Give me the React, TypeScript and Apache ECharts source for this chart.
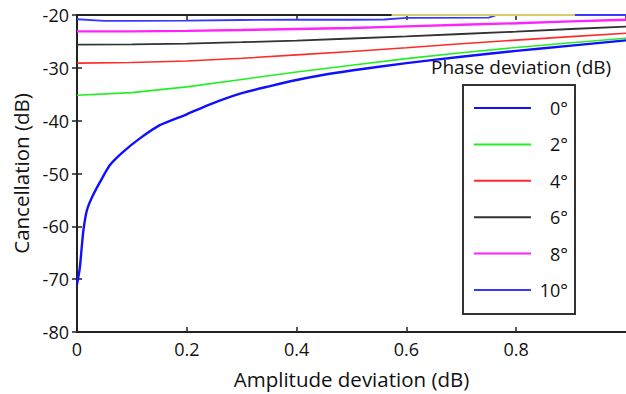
import React, { useEffect, useRef } from "react";
import * as echarts from "echarts";

// Amplitude deviation (dB) sample points
const amp0: number[] = [0, 0.005, 0.0085, 0.0115, 0.0175, 0.0265, 0.042, 0.06, 0.084, 0.114, 0.15, 0.2, 0.24, 0.3, 0.35, 0.4, 0.45, 0.5, 0.6, 0.7, 0.8, 0.9, 1.0];
const ampBase: number[] = [0, 0.1, 0.2, 0.3, 0.4, 0.5, 0.6, 0.7, 0.8, 0.9, 1.0];
const amp10: number[] = [0, 0.05, 0.1, 0.2, 0.3, 0.4, 0.5, 0.56, 0.6, 0.75, 0.765, 0.9, 1.0];
const ampTop: number[] = [0.573, 0.907];

// Cancellation (dB) for each phase deviation
const phase0: number[] = [-71, -68, -64.1, -60.9, -57.2, -54.7, -51.6, -48.4, -45.9, -43.4, -40.9, -38.8, -37, -34.8, -33.5, -32.3, -31.3, -30.5, -29.1, -27.9, -26.8, -25.8, -24.8];
const phase2: number[] = [-35.2, -34.7, -33.6, -32.2, -30.8, -29.5, -28.25, -27.15, -26.15, -25.25, -24.4];
const phase4: number[] = [-29.1, -29.0, -28.7, -28.2, -27.55, -26.9, -26.2, -25.45, -24.75, -24.1, -23.45];
const phase6: number[] = [-25.6, -25.55, -25.4, -25.15, -24.85, -24.45, -24.05, -23.6, -23.15, -22.65, -22.2];
const phase8: number[] = [-23.1, -23.1, -23.0, -22.85, -22.65, -22.45, -22.15, -21.85, -21.55, -21.2, -20.9];
const phase10: number[] = [-20.8, -21.1, -21.1, -21.05, -20.95, -20.9, -20.9, -20.85, -20.55, -20.5, -20.0, -20, -20];
const topLine: number[] = [-20, -20];

const legendNames: string[] = ["0°", "2°", "4°", "6°", "8°", "10°"];
const xTicks: number[] = [0, 0.2, 0.4, 0.6, 0.8, 1.0];
const yTicks: number[] = [-80, -70, -60, -50, -40, -30, -20];

const FONT = "Open Sans";
const FS = 18;
const FS_NAME = 20.5;

function zip(xs: number[], ys: number[]): number[][] {
  return xs.map((x, i) => [x, ys[i]]);
}

export default function App() {
  const ref = useRef<HTMLDivElement>(null);
  useEffect(() => {
    if (!ref.current) return;
    const chart = echarts.init(ref.current, undefined, { renderer: "svg" });
    const axisLine = { show: true, lineStyle: { color: "#222", width: 2 } };
    const tick = { show: true, inside: true, length: 5, lineStyle: { color: "#222", width: 1.5 } };
    const mk = (name: string, xs: number[], ys: number[], color: string, width: number, z = 3, smooth: number | boolean = false) => ({
      name,
      type: "line",
      data: zip(xs, ys),
      showSymbol: false,
      symbol: "none",
      clip: false,
      smooth,
      lineStyle: { color, width },
      itemStyle: { color },
      z,
    });
    chart.setOption({
      animation: false,
      backgroundColor: "#fff",
      textStyle: { fontFamily: FONT },
      title: {
        text: "Phase deviation (dB)",
        left: 431,
        top: 57,
        padding: 0,
        textStyle: { fontFamily: FONT, fontSize: 19, fontWeight: "normal", color: "#111" },
      },
      legend: {
        data: legendNames,
        orient: "vertical",
        left: 463,
        top: 85,
        padding: [14, 7, 15, 10],
        itemWidth: 57,
        itemHeight: 14,
        itemGap: 18.4,
        borderColor: "#333",
        borderWidth: 2,
        borderRadius: 0,
        backgroundColor: "#fff",
        itemStyle: { opacity: 0 },
        formatter: (n: string) => "{a|" + n + "}",
        textStyle: {
          fontFamily: FONT,
          fontSize: FS,
          color: "#111",
          rich: { a: { fontFamily: FONT, fontSize: FS, color: "#111", width: 32, align: "right" } },
        },
        selectedMode: false,
      },
      grid: { left: 77, right: -2.5, top: 15, bottom: 59, containLabel: false },
      xAxis: [
        {
          type: "value",
          min: xTicks[0],
          max: xTicks[xTicks.length - 1],
          interval: 0.2,
          name: "Amplitude deviation (dB)",
          nameLocation: "middle",
          nameGap: 36,
          nameTextStyle: { fontFamily: FONT, fontSize: FS_NAME, color: "#111" },
          axisLine,
          axisTick: tick,
          axisLabel: { fontFamily: FONT, fontSize: FS, color: "#111", margin: 8, showMaxLabel: false },
          splitLine: { show: false },
        },
        {
          type: "value",
          position: "top",
          min: xTicks[0],
          max: xTicks[xTicks.length - 1],
          interval: 0.2,
          axisLine,
          axisTick: tick,
          axisLabel: { show: false },
          splitLine: { show: false },
        },
      ],
      yAxis: [
        {
          type: "value",
          min: yTicks[0],
          max: yTicks[yTicks.length - 1],
          interval: 10,
          name: "Cancellation (dB)",
          nameLocation: "middle",
          nameGap: 43,
          nameTextStyle: { fontFamily: FONT, fontSize: FS_NAME, color: "#111" },
          axisLine,
          axisTick: tick,
          axisLabel: { fontFamily: FONT, fontSize: FS, color: "#111", margin: 8 },
          splitLine: { show: false },
        },
        {
          type: "value",
          position: "right",
          min: yTicks[0],
          max: yTicks[yTicks.length - 1],
          interval: 10,
          axisLine,
          axisTick: tick,
          axisLabel: { show: false },
          splitLine: { show: false },
        },
      ],
      series: [
        mk(legendNames[0], amp0, phase0, "#1010ff", 2.4, 3, 0.2),
        mk(legendNames[1], ampBase, phase2, "#22ee22", 1.6),
        mk(legendNames[2], ampBase, phase4, "#ff2a2a", 1.6),
        mk(legendNames[3], ampBase, phase6, "#333333", 1.8),
        mk(legendNames[4], ampBase, phase8, "#ff22ff", 2.4),
        mk(legendNames[5], amp10, phase10, "#3838ff", 1.8),
        mk("top", ampTop, topLine, "#d6cc6a", 2, 4),
      ],
    });
    return () => chart.dispose();
  }, []);
  return (
    <div
      ref={ref}
      style={{ position: "fixed", left: 0, top: 0, width: 626, height: 394 }}
    />
  );
}
